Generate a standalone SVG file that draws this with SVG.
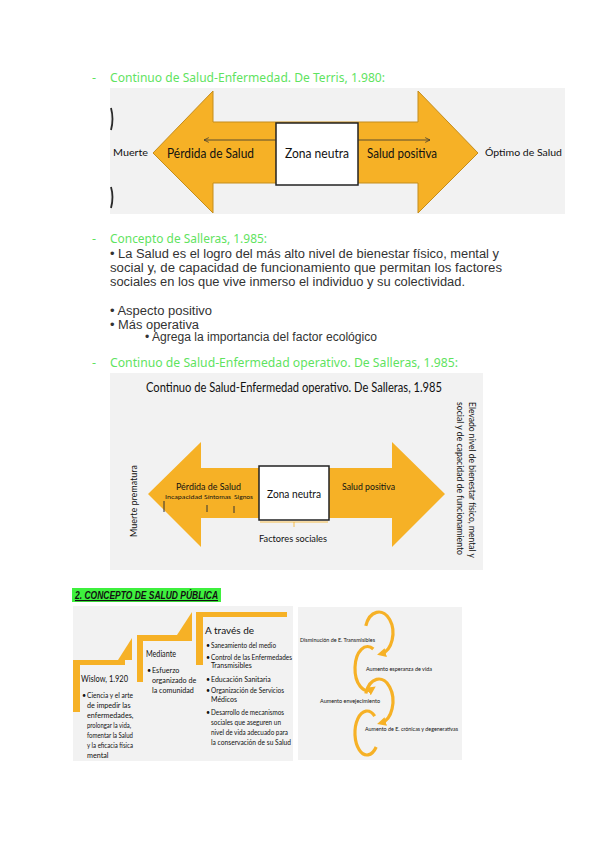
<svg xmlns="http://www.w3.org/2000/svg" width="600" height="848" viewBox="0 0 600 848">
<defs>
<style>
.h{font-family:"Noto Sans","Open Sans",sans-serif;font-size:12.5px;fill:#5fe35f}
.b{font-family:"Liberation Sans",Arial,sans-serif;font-size:12px;fill:#333}
.g{font-family:Lato,"Open Sans",sans-serif;fill:#111}
.bg{fill:#f2f2f2}
.or{fill:#f6b126}
.thin{stroke:#333;stroke-width:0.8;fill:none}
.ring{fill:none;stroke:#f6b126;stroke-width:3.2}
</style>
<marker id="ah" viewBox="0 0 10 10" refX="9" refY="5" markerWidth="6" markerHeight="6" orient="auto" markerUnits="userSpaceOnUse">
<path d="M1,1 L9,5 L1,9" fill="none" stroke="#333" stroke-width="1.2"/>
</marker>
<marker id="ahr" viewBox="0 0 10 10" refX="5" refY="5" markerWidth="9" markerHeight="9" orient="auto" markerUnits="userSpaceOnUse">
<path d="M0,0 L10,5 L0,10 Z" fill="#f6b126"/>
</marker>
</defs>
<rect width="600" height="848" fill="#fff"/>

<!-- Section 1 heading -->
<g id="heading1">
<text class="h" x="92" y="82">-</text>
<text class="h" x="110" y="82" textLength="275" lengthAdjust="spacingAndGlyphs">Continuo de Salud-Enfermedad. De Terris, 1.980:</text>
</g>

<!-- Diagram 1 -->
<g id="terris">
<rect class="bg" x="110" y="88" width="455" height="126"/>
<path d="M111,108 Q114,119 111,130 M111,187 Q114,197 111,208" stroke="#2a2a2a" stroke-width="1.8" fill="none"/>
<polygon class="or" stroke="#c48d1c" stroke-width="1" points="153,153 213,91 213,122 418,122 418,91 478,153 418,213 418,183 213,183 213,213"/>
<rect x="276" y="123" width="82" height="62" fill="#fff" stroke="#222" stroke-width="1.5"/>
<g class="g" font-size="13">
<text x="317" y="158" text-anchor="middle" textLength="64" lengthAdjust="spacingAndGlyphs">Zona neutra</text>
<text x="167" y="158" textLength="87" lengthAdjust="spacingAndGlyphs">Pérdida de Salud</text>
<text x="367" y="158" textLength="70" lengthAdjust="spacingAndGlyphs">Salud positiva</text>
</g>
<g class="g" font-size="10">
<text x="113" y="156" textLength="35" lengthAdjust="spacingAndGlyphs">Muerte</text>
<text x="485" y="156" textLength="77" lengthAdjust="spacingAndGlyphs">Óptimo de Salud</text>
</g>
</g>

<g id="connectors">
<line class="thin" x1="276" y1="140" x2="204" y2="140" marker-end="url(#ah)"/>
<line class="thin" x1="358" y1="140" x2="430" y2="140" marker-end="url(#ah)"/>
<line class="thin" x1="259" y1="505" x2="165" y2="505" marker-end="url(#ah)"/>
<line class="thin" x1="329" y1="503" x2="399" y2="503" marker-end="url(#ah)"/>
</g>

<!-- Section 2 text -->
<g id="concepto">
<text class="h" x="92" y="243">-</text>
<text class="h" x="110" y="243" textLength="157" lengthAdjust="spacingAndGlyphs">Concepto de Salleras, 1.985:</text>
<text class="b" x="110" y="258" textLength="389" lengthAdjust="spacingAndGlyphs">• La Salud es el logro del más alto nivel de bienestar físico, mental y</text>
<text class="b" x="110" y="272" textLength="392" lengthAdjust="spacingAndGlyphs">social y, de capacidad de funcionamiento que permitan los factores</text>
<text class="b" x="110" y="286" textLength="355" lengthAdjust="spacingAndGlyphs">sociales en los que vive inmerso el individuo y su colectividad.</text>
<text class="b" x="110" y="315" textLength="102" lengthAdjust="spacingAndGlyphs">• Aspecto positivo</text>
<text class="b" x="110" y="329" textLength="89" lengthAdjust="spacingAndGlyphs">• Más operativa</text>
<text class="b" x="145" y="341" font-size="10" textLength="232" lengthAdjust="spacingAndGlyphs">• Agrega la importancia del factor ecológico</text>
<text class="h" x="92" y="367">-</text>
<text class="h" x="110" y="367" textLength="348" lengthAdjust="spacingAndGlyphs">Continuo de Salud-Enfermedad operativo. De Salleras, 1.985:</text>
</g>

<!-- Diagram 2 -->
<g id="salleras">
<rect class="bg" x="110" y="373" width="373" height="197"/>
<text class="g" x="146" y="392" font-size="13" textLength="296" lengthAdjust="spacingAndGlyphs">Continuo de Salud-Enfermedad operativo. De Salleras, 1.985</text>
<polygon class="or" points="148,494 201,442 201,468 392,468 392,442 445,494 392,547 392,518 201,518 201,547"/>
<rect x="259" y="466" width="70" height="54" fill="#fff" stroke="#222" stroke-width="1.5"/>
<text class="g" x="294" y="498" font-size="12" text-anchor="middle" textLength="54" lengthAdjust="spacingAndGlyphs">Zona neutra</text>
<text class="g" x="176" y="490" font-size="10" textLength="65" lengthAdjust="spacingAndGlyphs">Pérdida de Salud</text>
<text class="g" x="342" y="490" font-size="10" textLength="53" lengthAdjust="spacingAndGlyphs">Salud positiva</text>
<g class="g" font-size="6.5">
<text x="165" y="499" textLength="37" lengthAdjust="spacingAndGlyphs">Incapacidad</text>
<text x="204" y="499" textLength="27" lengthAdjust="spacingAndGlyphs">Síntomas</text>
<text x="234" y="499" textLength="19" lengthAdjust="spacingAndGlyphs">Signos</text>
</g>
<path d="M164,501 V512 M207,505 V512 M234,506 V513" stroke="#333" stroke-width="1" fill="none"/>
<path d="M260,522 H328 M294,522 V527" stroke="#f6b126" stroke-width="0.8" fill="none"/>
<text class="g" x="293" y="542" font-size="10" text-anchor="middle" textLength="68" lengthAdjust="spacingAndGlyphs">Factores sociales</text>
<text class="g" font-size="10" transform="translate(137,501) rotate(-90)" text-anchor="middle" textLength="72" lengthAdjust="spacingAndGlyphs">Muerte prematura</text>
<g class="g" font-size="9.5">
<text transform="translate(469,402) rotate(90)" textLength="156" lengthAdjust="spacingAndGlyphs">Elevado nivel de bienestar físico, mental y</text>
<text transform="translate(457,402) rotate(90)" textLength="153" lengthAdjust="spacingAndGlyphs">social y de capacidad de funcionamiento</text>
</g>
</g>

<!-- Section 3 heading -->
<g id="heading-salud-publica">
<rect x="72" y="588" width="149" height="14" fill="#3ef03e"/>
<text x="75" y="599" font-family="'Liberation Sans',Arial,sans-serif" font-size="11" font-weight="bold" font-style="italic" text-decoration="underline" fill="#111" textLength="143" lengthAdjust="spacingAndGlyphs">2. CONCEPTO DE SALUD PÚBLICA</text>
</g>

<!-- Diagram 3: steps -->
<g id="steps">
<rect class="bg" x="73" y="606" width="220" height="155"/>
<g class="or">
<rect x="73" y="660" width="52" height="5"/>
<rect x="73" y="660" width="7" height="52"/>
<polygon points="118,660 132,660 132,638"/>
<rect x="137" y="635" width="55" height="6"/>
<rect x="137" y="635" width="6" height="47"/>
<polygon points="177,635 192,635 192,612"/>
<rect x="196" y="612" width="91" height="5"/>
<rect x="196" y="612" width="7" height="53"/>
</g>
<g id="step-wislow" class="g" font-size="7.2">
<text x="81" y="682" font-size="10" textLength="47" lengthAdjust="spacingAndGlyphs">Wislow, 1.920</text>
<text x="82" y="698">•</text>
<text x="87" y="698" textLength="46" lengthAdjust="spacingAndGlyphs">Ciencia y el arte</text>
<text x="87" y="708">de impedir las</text>
<text x="87" y="718">enfermedades,</text>
<text x="87" y="728" textLength="44" lengthAdjust="spacingAndGlyphs">prolongar la vida,</text>
<text x="87" y="738" textLength="46" lengthAdjust="spacingAndGlyphs">fomentar la Salud</text>
<text x="87" y="748" textLength="46" lengthAdjust="spacingAndGlyphs">y la eficacia física</text>
<text x="87" y="758">mental</text>
</g>
<g id="step-mediante" class="g" font-size="7.2">
<text x="146" y="657" font-size="10" textLength="30" lengthAdjust="spacingAndGlyphs">Mediante</text>
<text x="147" y="673">•</text>
<text x="152" y="673">Esfuerzo</text>
<text x="152" y="683">organizado de</text>
<text x="152" y="693">la comunidad</text>
</g>
<g id="step-traves" class="g" font-size="7">
<text x="205" y="634" font-size="10">A través de</text>
<text x="206" y="648">•</text><text x="211" y="648" textLength="65" lengthAdjust="spacingAndGlyphs">Saneamiento del medio</text>
<text x="206" y="660">•</text><text x="211" y="660" textLength="81" lengthAdjust="spacingAndGlyphs">Control de las Enfermedades</text>
<text x="211" y="668">Transmisibles</text>
<text x="206" y="682">•</text><text x="211" y="682">Educación Sanitaria</text>
<text x="206" y="693">•</text><text x="211" y="693" textLength="73" lengthAdjust="spacingAndGlyphs">Organización de Servicios</text>
<text x="211" y="702">Médicos</text>
<text x="206" y="715">•</text><text x="211" y="715" textLength="73" lengthAdjust="spacingAndGlyphs">Desarrollo de mecanismos</text>
<text x="211" y="725" textLength="70" lengthAdjust="spacingAndGlyphs">sociales que aseguren un</text>
<text x="211" y="735" textLength="77" lengthAdjust="spacingAndGlyphs">nivel de vida adecuado para</text>
<text x="211" y="745" textLength="80" lengthAdjust="spacingAndGlyphs">la conservación de su Salud</text>
</g>
</g>

<!-- Diagram 3: circular chain -->
<g id="cycle">
<rect class="bg" x="298" y="607" width="164" height="153"/>
<path class="ring" d="M365.8,625.8 A14,21 0 1 1 381.4,653.7" marker-end="url(#ahr)"/>
<path class="ring" d="M373.3,649 A12.5,22 0 1 0 372,689" marker-end="url(#ahr)"/>
<path class="ring" d="M365.8,693.5 A14,22 0 1 1 381.4,722.7" marker-end="url(#ahr)"/>
<path class="ring" d="M374.7,716.2 A12,22 0 1 0 376.2,747" />
<g class="g" font-size="6.5">
<text x="300" y="642" textLength="75" lengthAdjust="spacingAndGlyphs">Disminución de E. Transmisibles</text>
<text x="366" y="671" textLength="66" lengthAdjust="spacingAndGlyphs">Aumento esperanza de vida</text>
<text x="320" y="703" textLength="60" lengthAdjust="spacingAndGlyphs">Aumento envejecimiento</text>
<text x="365" y="731" textLength="93" lengthAdjust="spacingAndGlyphs">Aumento de E. crónicas y degenerativas</text>
</g>
</g>
</svg>
